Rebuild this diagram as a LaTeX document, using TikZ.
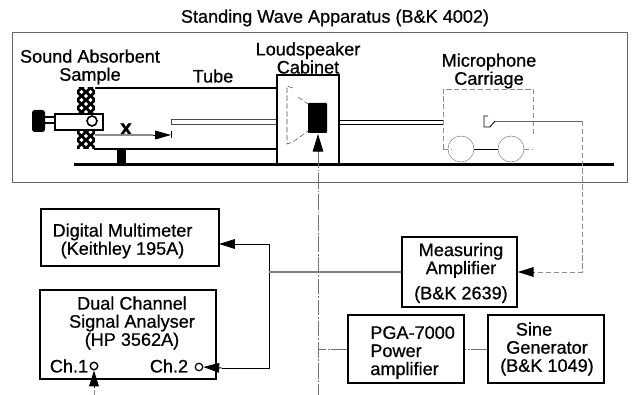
\documentclass[tikz,border=0pt]{standalone}
\usepackage{fontspec}
\setmainfont[RawFeature={embolden=0.7}]{Liberation Sans}
\usetikzlibrary{arrows.meta}

\tikzset{
    unitbox/.style={draw, line width=0.9pt, inner sep=0pt},
    unitlabel/.style={align=center, inner sep=0pt, font=\fontsize{10.3}{10.3}\selectfont},
    signal/.style={line width=0.4pt, color=black!55, dash pattern=on 9pt off 1pt on 1pt off 1pt},
    faint/.style={line width=0.3pt, color=black!45, dash pattern=on 3pt off 1.5pt},
    bigtip/.style={-{Triangle[length=9pt,width=5.5pt]}},
}

\begin{document}
\begin{tikzpicture}[x=0.02cm,y=-0.02cm]
    \useasboundingbox (0,0) rectangle (636,395);

    % apparatus
    \node[unitlabel] (title) at (335,18) {Standing Wave Apparatus (B\&K 4002)};
    \draw[line width=0.3pt, color=black!60] (12.5,32.5) rectangle (627,182);
    \fill (74,163) rectangle (614,166.5);

    % tube
    \draw[line width=0.8pt] (94,88) -- (277,88);
    \draw[line width=0.8pt] (94,149) -- (277,149);
    \fill (117,149) rectangle (126,163);
    \draw[line width=0.35pt, color=black!70] (171,119) rectangle (277,124);

    % sample
    \fill (77,87) rectangle (95,149);
    \begin{scope}
        \clip (77,87) rectangle (95,149);
        \foreach \row in {0,...,7} {
            \foreach \col in {0,1,2} {
                \fill[white] (77+9*\col,88+8*\row) +(0,-2.2) -- +(2.2,0) -- +(0,2.2) -- +(-2.2,0) -- cycle;
            }
        }
        \foreach \row in {0,...,7} {
            \foreach \col in {0,1} {
                \fill[white] (81.5+9*\col,92+8*\row) +(0,-2.2) -- +(2.2,0) -- +(0,2.2) -- +(-2.2,0) -- cycle;
            }
        }
    \end{scope}

    % holder
    \fill[rounded corners=1.5pt] (32,110) rectangle (45,132);
    \draw[line width=0.7pt] (45,117) -- (55,117);
    \draw[line width=0.7pt] (45,123) -- (55,123);
    \draw[line width=0.7pt, fill=white] (55,114) rectangle (103,130);
    \draw[line width=0.9pt, fill=white] (92,121) circle (5);

    % x arrow
    \node[unitlabel, font=\fontsize{12}{12}\selectfont] (xlabel) at (126,129) {\textbf{x}};
    \coordinate (xstart) at (95,135);
    \coordinate (xend) at (171,135);
    \draw[line width=0.6pt, color=black!45] (xstart) -- (153,135);
    \draw[-{Triangle[length=9pt,width=5pt]}, line width=0.4pt] (153,135) -- (xend);
    \draw[line width=0.4pt] (171,131) -- (171,138);

    % cabinet
    \draw[line width=0.9pt] (277,163) -- (277,75) -- (339,75) -- (339,163);
    \draw[faint, color=black!70] (293,88) -- (287,86) -- (287,144) -- (293,142) -- (308,131);
    \draw[faint, color=black!70] (298,97) -- (308,104);
    \fill[rounded corners=0.5pt] (308,103) rectangle (327,133);
    \draw[line width=0.4pt] (339,120) -- (443,120);
    \draw[line width=0.4pt] (339,124) -- (443,124);

    % carriage
    \draw[faint] (443,149) -- (443,89) -- (533,89) -- (533,135);
    \draw[faint] (443,149) -- (452,149);
    \draw[line width=0.3pt, color=black!50] (461,149) circle (13);
    \draw[line width=0.3pt, color=black!50] (511,149) circle (13);
    \draw[line width=0.5pt] (474,149) -- (498,149);
    \draw[faint] (524,149) -- (533,149);
    \draw[line width=0.5pt] (488,116) -- (484,116) -- (484,127) -- (490,127) -- (495,121);
    \coordinate (mic) at (495,121);
    \coordinate (micend) at (582,121);
    \coordinate (micdown) at (582,272);
    \draw[line width=0.4pt, color=black!60] (mic) -- (micend);

    \node[unitlabel] (samplelabel) at (90,67) {Sound Absorbent\\Sample};
    \node[unitlabel] (tubelabel) at (213,76) {Tube};
    \node[unitlabel] (cabinetlabel) at (308,58) {Loudspeaker\\Cabinet};
    \node[unitlabel] (carriagelabel) at (489,71) {Microphone\\Carriage};

    % instruments
    \node[unitbox, minimum width=3.56cm, minimum height=1.14cm] (multimeter) at (130,237.5) {};
    \node[unitlabel] (multimeterlabel) at (122.5,241) {Digital Multimeter\\(Keithley 195A)};
    \node[unitbox, minimum width=3.52cm, minimum height=1.78cm] (analyser) at (128,334.5) {};
    \node[unitlabel] (analyserlabel) at (132,323) {Dual Channel\\Signal Analyser\\(HP 3562A)};
    \node[unitbox, minimum width=2.3cm, minimum height=1.4cm] (measuring) at (459.5,272) {};
    \node[unitlabel] (measuringlabel) at (461,273) {Measuring\\Amplifier\\[4pt](B\&K 2639)};
    \node[unitbox, minimum width=2.32cm, minimum height=1.36cm] (pga) at (406,349) {};
    \node[unitlabel, align=left, anchor=west] (pgalabel) at (370,352.5) {PGA-7000\\Power\\amplifier};
    \node[unitbox, minimum width=2.32cm, minimum height=1.36cm] (sine) at (546,349) {};
    \node[unitlabel] (sinelabel) at (547,349) {Sine\hspace*{0.52cm}\\Generator\\(B\&K 1049)};

    \node[unitlabel] (chone) at (69,366) {Ch.1};
    \node[unitlabel] (chtwo) at (169,366) {Ch.2};
    \node[draw, circle, line width=0.8pt, fill=white, minimum size=0.15cm, inner sep=0pt] (chonepin) at (94,366) {};
    \node[draw, circle, line width=0.7pt, fill=white, minimum size=0.15cm, inner sep=0pt] (chtwopin) at (199,367) {};

    % connections
    \coordinate (magnet) at (318,134);
    \coordinate (bottom) at (318,395);
    \coordinate (chonefoot) at (94,395);
    \coordinate (multiin) at (219,244);
    \coordinate (turn) at (269,244);
    \coordinate (tap) at (269,272);
    \coordinate (turndown) at (269,368);

    \draw[signal] (318,152) -- (bottom);
    \draw[-{Triangle[length=10pt,width=6pt]}, line width=0.5pt] (318,152) -- (magnet);
    \draw[signal] (pga.west) -- (318,349);
    \draw[signal] (sine.west) -- (pga.east);
    \draw[line width=0.45pt] (tap) -- (turn) -- (236,244);
    \draw[bigtip, line width=0.5pt] (236,244) -- (multiin);
    \draw[line width=0.45pt] (tap) -- (turndown) -- (222,368);
    \draw[bigtip, line width=0.5pt] (222,368) -- (chtwopin.east);
    \draw[color=black!50, line width=0.6pt] (tap) -- (measuring.west);
    \draw[faint] (micend) -- (micdown) -- (533,272);
    \draw[bigtip, line width=0.5pt] (533,272) -- (measuring.east);
    \draw[faint] (chonefoot) -- (94,388);
    \draw[bigtip, line width=0.5pt] (94,388) -- (chonepin.south);
\end{tikzpicture}
\end{document}
